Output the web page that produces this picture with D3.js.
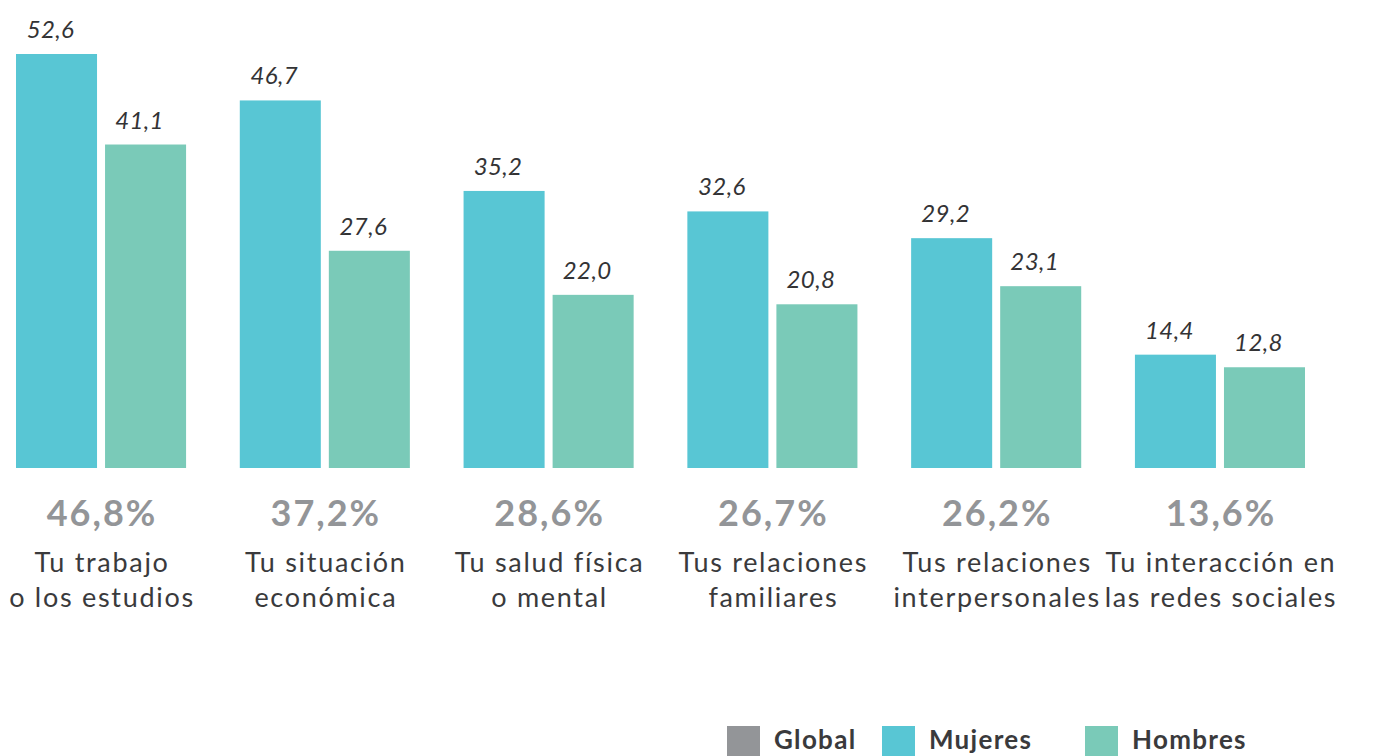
<!DOCTYPE html>
<html>
<head>
<meta charset="utf-8">
<script src="https://cdn.jsdelivr.net/npm/d3@7"></script>
<style>
  html, body { margin: 0; padding: 0; background: #ffffff; }
  svg { display: block; }
</style>
</head>
<body>
<svg id="chart" width="1375" height="756"></svg>
<script>
// Categories (two-line labels) and their global share
const categories = [
  ["Tu trabajo", "o los estudios"],
  ["Tu situación", "económica"],
  ["Tu salud física", "o mental"],
  ["Tus relaciones", "familiares"],
  ["Tus relaciones", "interpersonales"],
  ["Tu interacción en", "las redes sociales"]
];
const globalValues = [46.8, 37.2, 28.6, 26.7, 26.2, 13.6];
const mujeresValues = [52.6, 46.7, 35.2, 32.6, 29.2, 14.4];
const hombresValues = [41.1, 27.6, 22.0, 20.8, 23.1, 12.8];
const seriesNames = ["Mujeres", "Hombres"];
const legendNames = ["Global", "Mujeres", "Hombres"];

const colors = { Global: "#939598", Mujeres: "#58c6d4", Hombres: "#7acab8" };
const fmt = v => v.toFixed(1).replace(".", ",");

const svg = d3.select("#chart");
const FONT = "Lato, 'Open Sans', sans-serif";

const keys = categories.map((c, i) => i);
const x0 = d3.scaleBand().domain(keys).range([16, 1305]).paddingInner(0.24).paddingOuter(0);
const x1 = d3.scaleBand().domain(seriesNames).range([0, x0.bandwidth()]).paddingInner(0.09).paddingOuter(0);
const y = d3.scaleLinear().domain([0, 52.6]).range([468, 54]);

// horizontal centre of the text block under each group
const labelX = i => x0(i) + x0.bandwidth() / 2 + 1;

const rows = keys.map(i => ({
  i,
  values: [
    { key: "Mujeres", value: mujeresValues[i] },
    { key: "Hombres", value: hombresValues[i] }
  ]
}));

const groups = svg.append("g").selectAll("g")
  .data(rows).join("g")
  .attr("transform", d => `translate(${x0(d.i)},0)`);

groups.selectAll("rect")
  .data(d => d.values).join("rect")
  .attr("x", d => x1(d.key))
  .attr("y", d => y(d.value))
  .attr("width", x1.bandwidth())
  .attr("height", d => y(0) - y(d.value))
  .attr("fill", d => colors[d.key]);

groups.selectAll("text.val")
  .data(d => d.values).join("text")
  .attr("class", "val")
  .attr("x", d => x1(d.key) + x1.bandwidth() / 2 - 6)
  .attr("y", d => y(d.value) - 16)
  .attr("text-anchor", "middle")
  .attr("font-family", FONT)
  .attr("font-style", "italic")
  .attr("font-weight", 400)
  .attr("font-size", 24)
  .attr("letter-spacing", 0.4)
  .attr("fill", "#333335")
  .text(d => fmt(d.value));

// Global share under each group
svg.append("g").selectAll("text")
  .data(keys).join("text")
  .attr("x", labelX)
  .attr("y", 526)
  .attr("text-anchor", "middle")
  .attr("font-family", FONT)
  .attr("font-weight", "bold")
  .attr("font-size", 36)
  .attr("letter-spacing", 2)
  .attr("fill", colors.Global)
  .text(i => fmt(globalValues[i]) + "%");

// Category labels
const cat = svg.append("g").selectAll("text")
  .data(keys).join("text")
  .attr("text-anchor", "middle")
  .attr("font-family", FONT)
  .attr("font-size", 27)
  .attr("letter-spacing", 1.7)
  .attr("fill", "#3a3a3c");
cat.selectAll("tspan")
  .data(i => categories[i].map(line => ({ i, line })))
  .join("tspan")
  .attr("x", d => labelX(d.i))
  .attr("y", (d, j) => 572 + j * 35)
  .text(d => d.line);

// Legend
const legendX = { Global: 727, Mujeres: 882, Hombres: 1085 };
const leg = svg.append("g").selectAll("g")
  .data(legendNames).join("g")
  .attr("transform", d => `translate(${legendX[d]},726)`);
leg.append("rect")
  .attr("width", 33).attr("height", 32)
  .attr("fill", d => colors[d]);
leg.append("text")
  .attr("x", 47).attr("y", 23)
  .attr("font-family", FONT)
  .attr("font-weight", "bold")
  .attr("font-size", 26)
  .attr("letter-spacing", 1.3)
  .attr("fill", "#3a3a3c")
  .text(d => d);
</script>
</body>
</html>
